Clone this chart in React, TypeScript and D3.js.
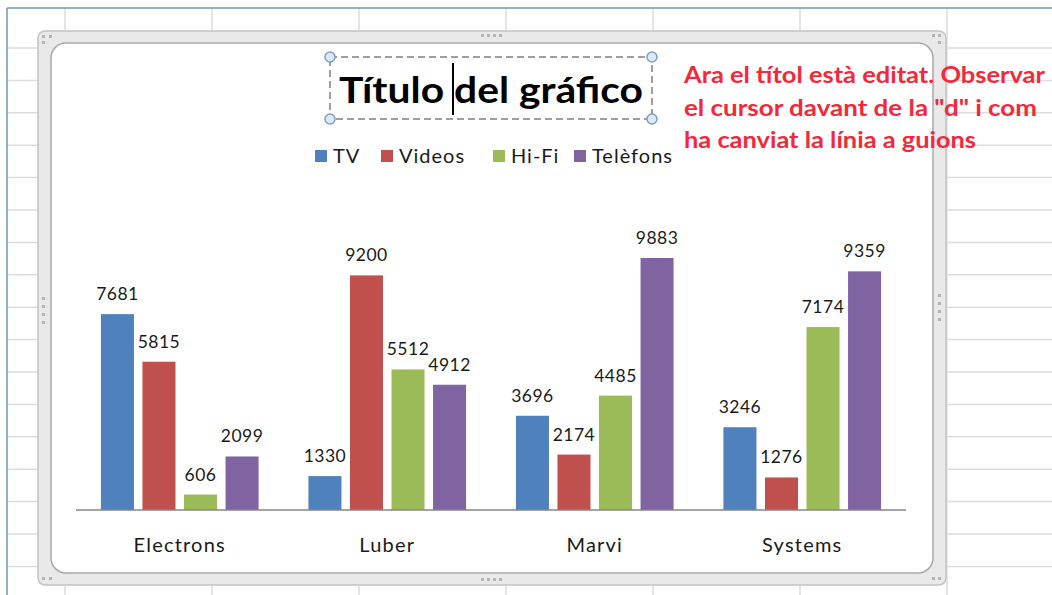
import React from "react";
import { scaleBand, scaleLinear, range } from "d3";

const categories = ["Electrons", "Luber", "Marvi", "Systems"];
const seriesNames = ["TV", "Videos", "Hi-Fi", "Telèfons"];
const tvValues = [7681, 1330, 3696, 3246];
const videosValues = [5815, 9200, 2174, 1276];
const hifiValues = [606, 5512, 4485, 7174];
const telefonsValues = [2099, 4912, 9883, 9359];
const seriesValues = [tvValues, videosValues, hifiValues, telefonsValues];
const colors = ["#4F81BD", "#C0504D", "#9BBB59", "#8064A2"];
const titleText = "Título del gráfico";
const noteLines = [
  "Ara el títol està editat. Observar",
  "el cursor davant de la \"d\" i com",
  "ha canviat la línia a guions",
];

const W = 1052;
const H = 595;
const FONT = "Lato, 'Noto Sans', sans-serif";

export default function App() {
  const x0 = scaleBand<string>().domain(categories).range([76, 906]);
  const x1 = scaleBand<string>()
    .domain(seriesNames)
    .range([0, x0.bandwidth()])
    .paddingInner(0.205)
    .paddingOuter(0.6);
  const y = scaleLinear().domain([0, 12000]).range([510, 204]);

  // legend placement (x of each swatch)
  const legendX = [315, 381, 493, 574];
  // widths of the annotation lines
  const noteWidths = [361, 353, 292];

  const rows = range(17).map((k) => 48 + k * 32.4);
  const cols = range(7).map((k) => 65 + k * 147);

  return (
    <svg
      width={W}
      height={H}
      style={{ position: "absolute", left: 0, top: 0, background: "#fff" }}
      fontFamily={FONT}
    >
      {/* spreadsheet grid */}
      <g stroke="#dcdddf" strokeWidth={1.5}>
        {rows.map((r) => (
          <line key={"r" + r} x1={7} x2={W} y1={r} y2={r} />
        ))}
        {cols.map((c) => (
          <line key={"c" + c} x1={c} x2={c} y1={8} y2={H} />
        ))}
      </g>
      <line x1={7} x2={W} y1={8} y2={8} stroke="#6f9aaa" strokeWidth={1.5} />
      <line x1={7} x2={7} y1={8} y2={H} stroke="#6f9aaa" strokeWidth={1.5} />

      {/* chart frame */}
      <rect x={38} y={31} width={908} height={554} rx={7} fill="#e9e9e9" stroke="#c4c4c4" strokeWidth={1.5} />
      <rect x={51} y={43} width={882} height={530} rx={15} fill="#fff" stroke="#a9a9a9" strokeWidth={1.5} />
      <g fill="#b5b5b5">
        {range(4).map((i) => (
          <React.Fragment key={"h" + i}>
            <rect x={481 + i * 6} y={34} width={3} height={3} />
            <rect x={481 + i * 6} y={578} width={3} height={3} />
            <rect x={42} y={297 + i * 8} width={3} height={3} />
            <rect x={938} y={294 + i * 8} width={3} height={3} />
          </React.Fragment>
        ))}
        <rect x={42} y={35} width={3} height={3} />
        <rect x={49} y={35} width={3} height={3} />
        <rect x={42} y={41} width={3} height={3} />
        <rect x={938} y={34} width={3} height={3} />
        <rect x={932} y={34} width={3} height={3} />
        <rect x={938} y={41} width={3} height={3} />
        <rect x={42} y={577} width={3} height={3} />
        <rect x={49} y={577} width={3} height={3} />
        <rect x={938} y={577} width={3} height={3} />
        <rect x={932} y={577} width={3} height={3} />
      </g>

      {/* title in edit mode */}
      <rect x={330} y={57} width={322} height={62} fill="none" stroke="#808080" strokeWidth={1.5} strokeDasharray="7 4" />
      {[
        [330, 57],
        [652, 57],
        [330, 119],
        [652, 119],
      ].map(([cx, cy], i) => (
        <circle key={"hd" + i} cx={cx} cy={cy} r={5} fill="#dde9f5" stroke="#7aa0c4" strokeWidth={1.5} />
      ))}
      <text x={491} y={103} textAnchor="middle" fontSize={37} fontWeight="bold" fill="#000" textLength={304} lengthAdjust="spacingAndGlyphs">
        {titleText}
      </text>
      <line x1={453} x2={453} y1={63} y2={115} stroke="#000" strokeWidth={2} />

      {/* legend */}
      {seriesNames.map((s, i) => (
        <g key={s}>
          <rect x={legendX[i]} y={150} width={12} height={12} fill={colors[i]} />
          <text x={legendX[i] + 18} y={163} fontSize={20} letterSpacing={1} fill="#1a1a1a">
            {s}
          </text>
        </g>
      ))}

      {/* bars */}
      {categories.map((c, ci) => (
        <g key={c} transform={`translate(${x0(c)},0)`}>
          {seriesNames.map((s, si) => {
            const v = seriesValues[si][ci];
            const bx = x1(s)!;
            return (
              <g key={s}>
                <rect x={bx} y={y(v)} width={x1.bandwidth()} height={y(0) - y(v)} fill={colors[si]} />
                <text x={bx + x1.bandwidth() / 2} y={y(v) - 14} textAnchor="middle" fontSize={17.5} letterSpacing={0.5} fill="#1a1a1a">
                  {v}
                </text>
              </g>
            );
          })}
          <text x={x0.bandwidth() / 2} y={552} textAnchor="middle" fontSize={20} letterSpacing={1.2} fill="#1a1a1a">
            {c}
          </text>
        </g>
      ))}
      <line x1={76} x2={906} y1={y(0)} y2={y(0)} stroke="#868686" strokeWidth={1.5} />

      {/* annotation */}
      {noteLines.map((t, i) => (
        <text key={i} x={684} y={83 + i * 32.5} fontSize={23} fontWeight="bold" fill="#f2283b" textLength={noteWidths[i]} lengthAdjust="spacingAndGlyphs">
          {t}
        </text>
      ))}
    </svg>
  );
}
